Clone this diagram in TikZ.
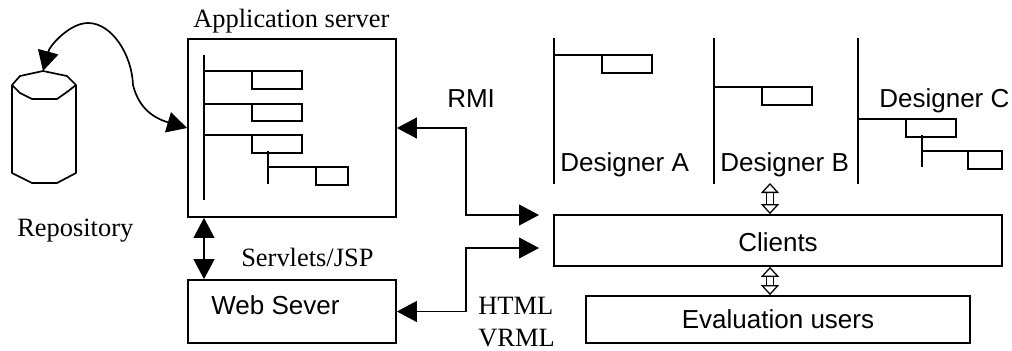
\documentclass[tikz,border=0pt]{standalone}
\usepackage{fontspec}
\setmainfont{Liberation Serif}
\setsansfont{Liberation Sans}
\usetikzlibrary{arrows.meta}

\tikzset{
    box/.style={draw,line width=1.2pt,inner sep=0pt,font=\sffamily\fontsize{18.5}{20}\selectfont},
    sanslabel/.style={anchor=base west,inner sep=0pt,font=\sffamily\fontsize{18.5}{20}\selectfont},
    seriflabel/.style={anchor=base west,inner sep=0pt,font=\rmfamily\fontsize{18.8}{20}\selectfont},
    tree/.style={line width=1.2pt},
    link/.style={line width=1.2pt,{Triangle[length=0.5cm,width=0.52cm]}-{Triangle[length=0.5cm,width=0.52cm]}},
    hollow/.style={line width=0.9pt,double,double distance=0.15cm,{Triangle[open,fill=white,length=0.25cm,width=0.45cm]}-{Triangle[open,fill=white,length=0.25cm,width=0.45cm]}}
}

\begin{document}
\begin{tikzpicture}[x=0.025cm,y=-0.025cm]
    \useasboundingbox (0,0) rectangle (1012,350);

    % boxes
    \node[box,minimum width=5.2cm,minimum height=4.45cm] (appserver) at (292,128) {};
    \node[box,minimum width=5.2cm,minimum height=1.575cm] (webserver) at (292,311.5) {};
    \node[box,minimum width=11.2cm,minimum height=1.275cm,text height=0.575cm] (clients) at (778,240.5) {Clients};
    \node[box,minimum width=9.6cm,minimum height=1.175cm,text height=0.475cm] (evalusers) at (778,319.5) {Evaluation users};

    % labels
    \node[seriflabel] (applabel) at (193,27) {Application server};
    \node[seriflabel] (repolabel) at (17,236) {Repository};
    \node[seriflabel] (servletlabel) at (241,266) {Servlets/JSP};
    \node[seriflabel] (htmllabel) at (478,314) {HTML};
    \node[seriflabel] (vrmllabel) at (478,346) {VRML};
    \node[sanslabel] (rmilabel) at (447,107) {RMI};
    \node[sanslabel] (weblabel) at (211,314) {Web Sever};
    \node[sanslabel] (labela) at (560,171) {Designer A};
    \node[sanslabel] (labelb) at (720,171) {Designer B};
    \node[sanslabel] (labelc) at (879,107) {Designer C};

    % repository
    \draw[tree,line join=round] (12,85) -- (20,76) -- (43,71) -- (67,76) -- (76,85) -- (67,92) -- (57,99) -- (32,99) -- (20,93) -- cycle;
    \draw[tree,line join=round] (12,85) -- (12,173) -- (32,183) -- (57,183) -- (76,173) -- (76,85);
    \coordinate (repotop) at (43,71);

    % tree of the application server
    \coordinate (treebase) at (204,200);
    \draw[tree] (204,55) -- (treebase);
    \draw[tree] (204,71) -- (252,71);
    \draw[tree] (252,71) rectangle (302,89);
    \draw[tree] (204,104) -- (252,104);
    \draw[tree] (252,104) rectangle (302,121);
    \draw[tree] (204,135) -- (252,135);
    \draw[tree] (252,135) rectangle (302,153);
    \draw[tree] (268,151) -- (268,184);
    \draw[tree] (268,167) -- (316,167);
    \draw[tree] (316,167) rectangle (348,185);

    % trees of the designers
    \draw[tree] (554,38) -- (554,184);
    \draw[tree] (554,55) -- (602,55);
    \draw[tree] (602,55) rectangle (652,73);
    \draw[tree] (714,38) -- (714,184);
    \draw[tree] (714,87) -- (762,87);
    \draw[tree] (762,87) rectangle (812,105);
    \draw[tree] (858,38) -- (858,184);
    \draw[tree] (858,119) -- (906,119);
    \draw[tree] (906,119) rectangle (956,137);
    \draw[tree] (922,135) -- (922,167);
    \draw[tree] (922,151) -- (968,151);
    \draw[tree] (968,151) rectangle (1002,169);

    % edges
    \coordinate (rmiend) at (539,215);
    \coordinate (htmlend) at (539,248);
    \coordinate (designers) at (770,183);
    \draw[link] (repotop) .. controls (50,45) and (70,23) .. (88,23) .. controls (112,23) and (132,55) .. (133,85) .. controls (138,105) and (150,117) .. (appserver.west); % repository <-> application server
    \draw[link] (treebase |- appserver.south) -- (treebase |- webserver.north); % application server <-> web server
    \draw[link] (appserver.east) -| (466,215) -- (rmiend); % application server <-> clients
    \draw[link] (webserver.east) -| (466,248) -- (htmlend); % web server <-> clients
    \draw[hollow] (designers) -- (designers |- clients.north); % designers <-> clients
    \draw[hollow] (designers |- clients.south) -- (designers |- evalusers.north); % clients <-> evaluation users

\end{tikzpicture}
\end{document}
